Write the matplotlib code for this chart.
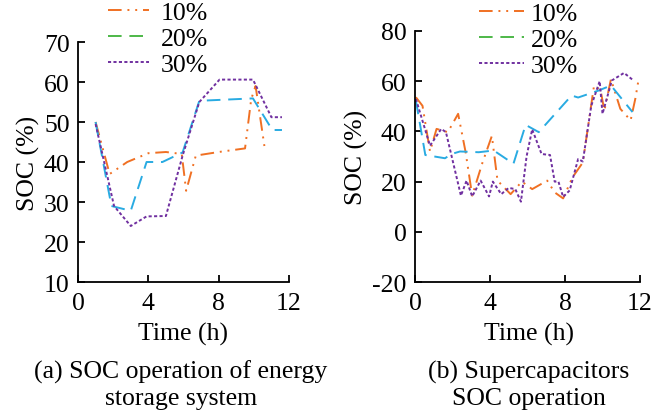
import matplotlib
matplotlib.use("Agg")
import matplotlib.pyplot as plt
from matplotlib.lines import Line2D

plt.rcParams['font.family'] = ['Liberation Serif', 'DejaVu Serif']
plt.rcParams['axes.unicode_minus'] = False

# (a) energy storage system SOC
ess_t10 = [1, 1.8, 2.8, 4.0, 5.0, 5.9, 6.15, 6.7, 8.0, 9.5, 9.85, 10.1, 10.6]
ess_s10 = [50, 37, 40, 42.2, 42.5, 42, 32.8, 41.6, 42.5, 43.4, 55.7, 59, 44]
ess_t20 = [1, 1.9, 3.0, 3.9, 4.8, 5.95, 6.9, 9.95, 11.05, 11.6]
ess_s20 = [50, 29, 27.8, 40, 40, 42.4, 55.3, 55.9, 48, 48]
ess_t30 = [1, 2.05, 3.0, 3.9, 5.0, 5.95, 6.9, 8.05, 9.95, 11.0, 11.6]
ess_s30 = [49.5, 29, 24, 26.4, 26.5, 41.6, 55, 60.6, 60.6, 51.2, 51.2]

# (b) supercapacitor SOC
sc_t10 = [0.05, 0.4, 0.8, 1.15, 1.75, 2.3, 2.7, 3.05, 3.6, 4.1, 4.4, 5.1, 5.7,
          6.25, 7.05, 7.45, 7.9, 8.4, 8.95, 9.55, 9.9, 10.1, 10.45, 10.95, 11.5,
          11.75, 11.9]
sc_s10 = [53.6, 50.2, 32, 41, 39.7, 47, 31.7, 14.4, 27.6, 38.2, 20.4, 15, 20,
          17, 20.4, 15.7, 13.3, 21.7, 27.6, 58.3, 56.3, 48.3, 60.8, 49, 44.4,
          53, 59.6]
sc_t20 = [0.05, 0.55, 1.6, 1.95, 2.4, 3.4, 4.2, 5.25, 5.9, 6.6, 8.35, 8.7,
          9.8, 10.45, 11.6]
sc_s20 = [52.2, 30.6, 29.3, 31, 32, 31.7, 32.4, 27.1, 42.6, 39.7, 54.3, 53.5,
          56.3, 58.3, 47.7]
sc_t30 = [0.05, 0.8, 1.4, 1.65, 2.45, 2.75, 3.05, 3.5, 3.95, 4.15, 4.6, 5.0,
          5.35, 5.65, 5.95, 6.25, 6.75, 7.2, 7.45, 7.65, 7.9, 8.25, 8.7, 8.95,
          9.4, 9.85, 10.0, 10.5, 11.15, 11.6]
sc_s30 = [52.9, 34.3, 41, 39.7, 14.4, 20.4, 14.1, 20.4, 14.1, 20, 15, 17.5,
          17, 12, 30, 40.8, 31, 30.6, 20, 20, 13.9, 16.5, 29, 28, 50.2, 60, 47,
          60.3, 63.3, 60.6]

labels = ['10%', '20%', '30%']
c10, c20, c30 = '#F07023', '#29ABE2', '#7030A0'
c20_key = '#4DB848'
st10 = (0, (7, 3, 1, 3, 1, 3))
st20 = (0, (7, 4))
st30 = (0, (1.6, 1.2))
lw = 1.4
fs = 18.5

W, H = 652, 414
fig = plt.figure(figsize=(6.52, 4.14), dpi=100)
ax1 = fig.add_axes([78 / W, 1 - 283 / H, (289 - 78) / W, (283 - 43) / H])
ax2 = fig.add_axes([415 / W, 1 - 283 / H, (640 - 415) / W, (283 - 32) / H])

def style(ax):
    for s in ('top', 'right'):
        ax.spines[s].set_visible(False)
    for s in ('left', 'bottom'):
        ax.spines[s].set_linewidth(1.3)
    ax.tick_params(axis='x', direction='in', length=5, width=1.3,
                   labelsize=fs, pad=7)
    ax.tick_params(axis='y', direction='in', length=5, width=1.3,
                   labelsize=fs, pad=6)
    ax.set_xlim(0, 12)
    ax.set_xticks([0, 4, 8, 12])
    ax.set_ylabel('SOC (%)', fontsize=fs, labelpad=3)

def draw(ax, t10, s10, t20, s20, t30, s30):
    ax.plot(t10, s10, color=c10, linestyle=st10, lw=lw)
    ax.plot(t20, s20, color=c20, linestyle=st20, lw=lw)
    ax.plot(t30, s30, color=c30, linestyle=st30, lw=lw)
    return [Line2D([], [], color=c10, linestyle=st10, lw=lw),
            Line2D([], [], color=c20_key, linestyle=st20, lw=lw),
            Line2D([], [], color=c30, linestyle=st30, lw=lw)]

h = draw(ax1, ess_t10, ess_s10, ess_t20, ess_s20, ess_t30, ess_s30)
style(ax1)
ax1.set_ylim(10, 70)
ax1.set_yticks(range(10, 71, 10))
fig.legend(h, labels, loc='upper left', bbox_to_anchor=(108 / W, 1 - 2 / H),
           frameon=False, fontsize=fs, handlelength=1.6, handletextpad=0.45,
           labelspacing=0.12, borderpad=0.0, borderaxespad=0.0)

h = draw(ax2, sc_t10, sc_s10, sc_t20, sc_s20, sc_t30, sc_s30)
style(ax2)
ax2.set_ylim(-20, 80)
ax2.set_yticks(range(-20, 81, 20))
fig.legend(h, labels, loc='upper left', bbox_to_anchor=(479 / W, 1 - 3 / H),
           frameon=False, fontsize=fs, handlelength=1.75, handletextpad=0.25,
           labelspacing=0.12, borderpad=0.0, borderaxespad=0.0)

# axis titles and captions placed in figure pixels
fig.text(183 / W, 1 - 334 / H, 'Time (h)', ha='center', va='center', fontsize=fs)
fig.text(529 / W, 1 - 334 / H, 'Time (h)', ha='center', va='center', fontsize=fs)
fig.text(181 / W, 1 - 372 / H, '(a) SOC operation of energy',
         ha='center', va='center', fontsize=fs)
fig.text(181 / W, 1 - 399 / H, 'storage system',
         ha='center', va='center', fontsize=fs)
fig.text(529 / W, 1 - 372 / H, '(b) Supercapacitors',
         ha='center', va='center', fontsize=fs)
fig.text(529 / W, 1 - 399 / H, 'SOC operation',
         ha='center', va='center', fontsize=fs)

fig.savefig('out.png', dpi=100)
